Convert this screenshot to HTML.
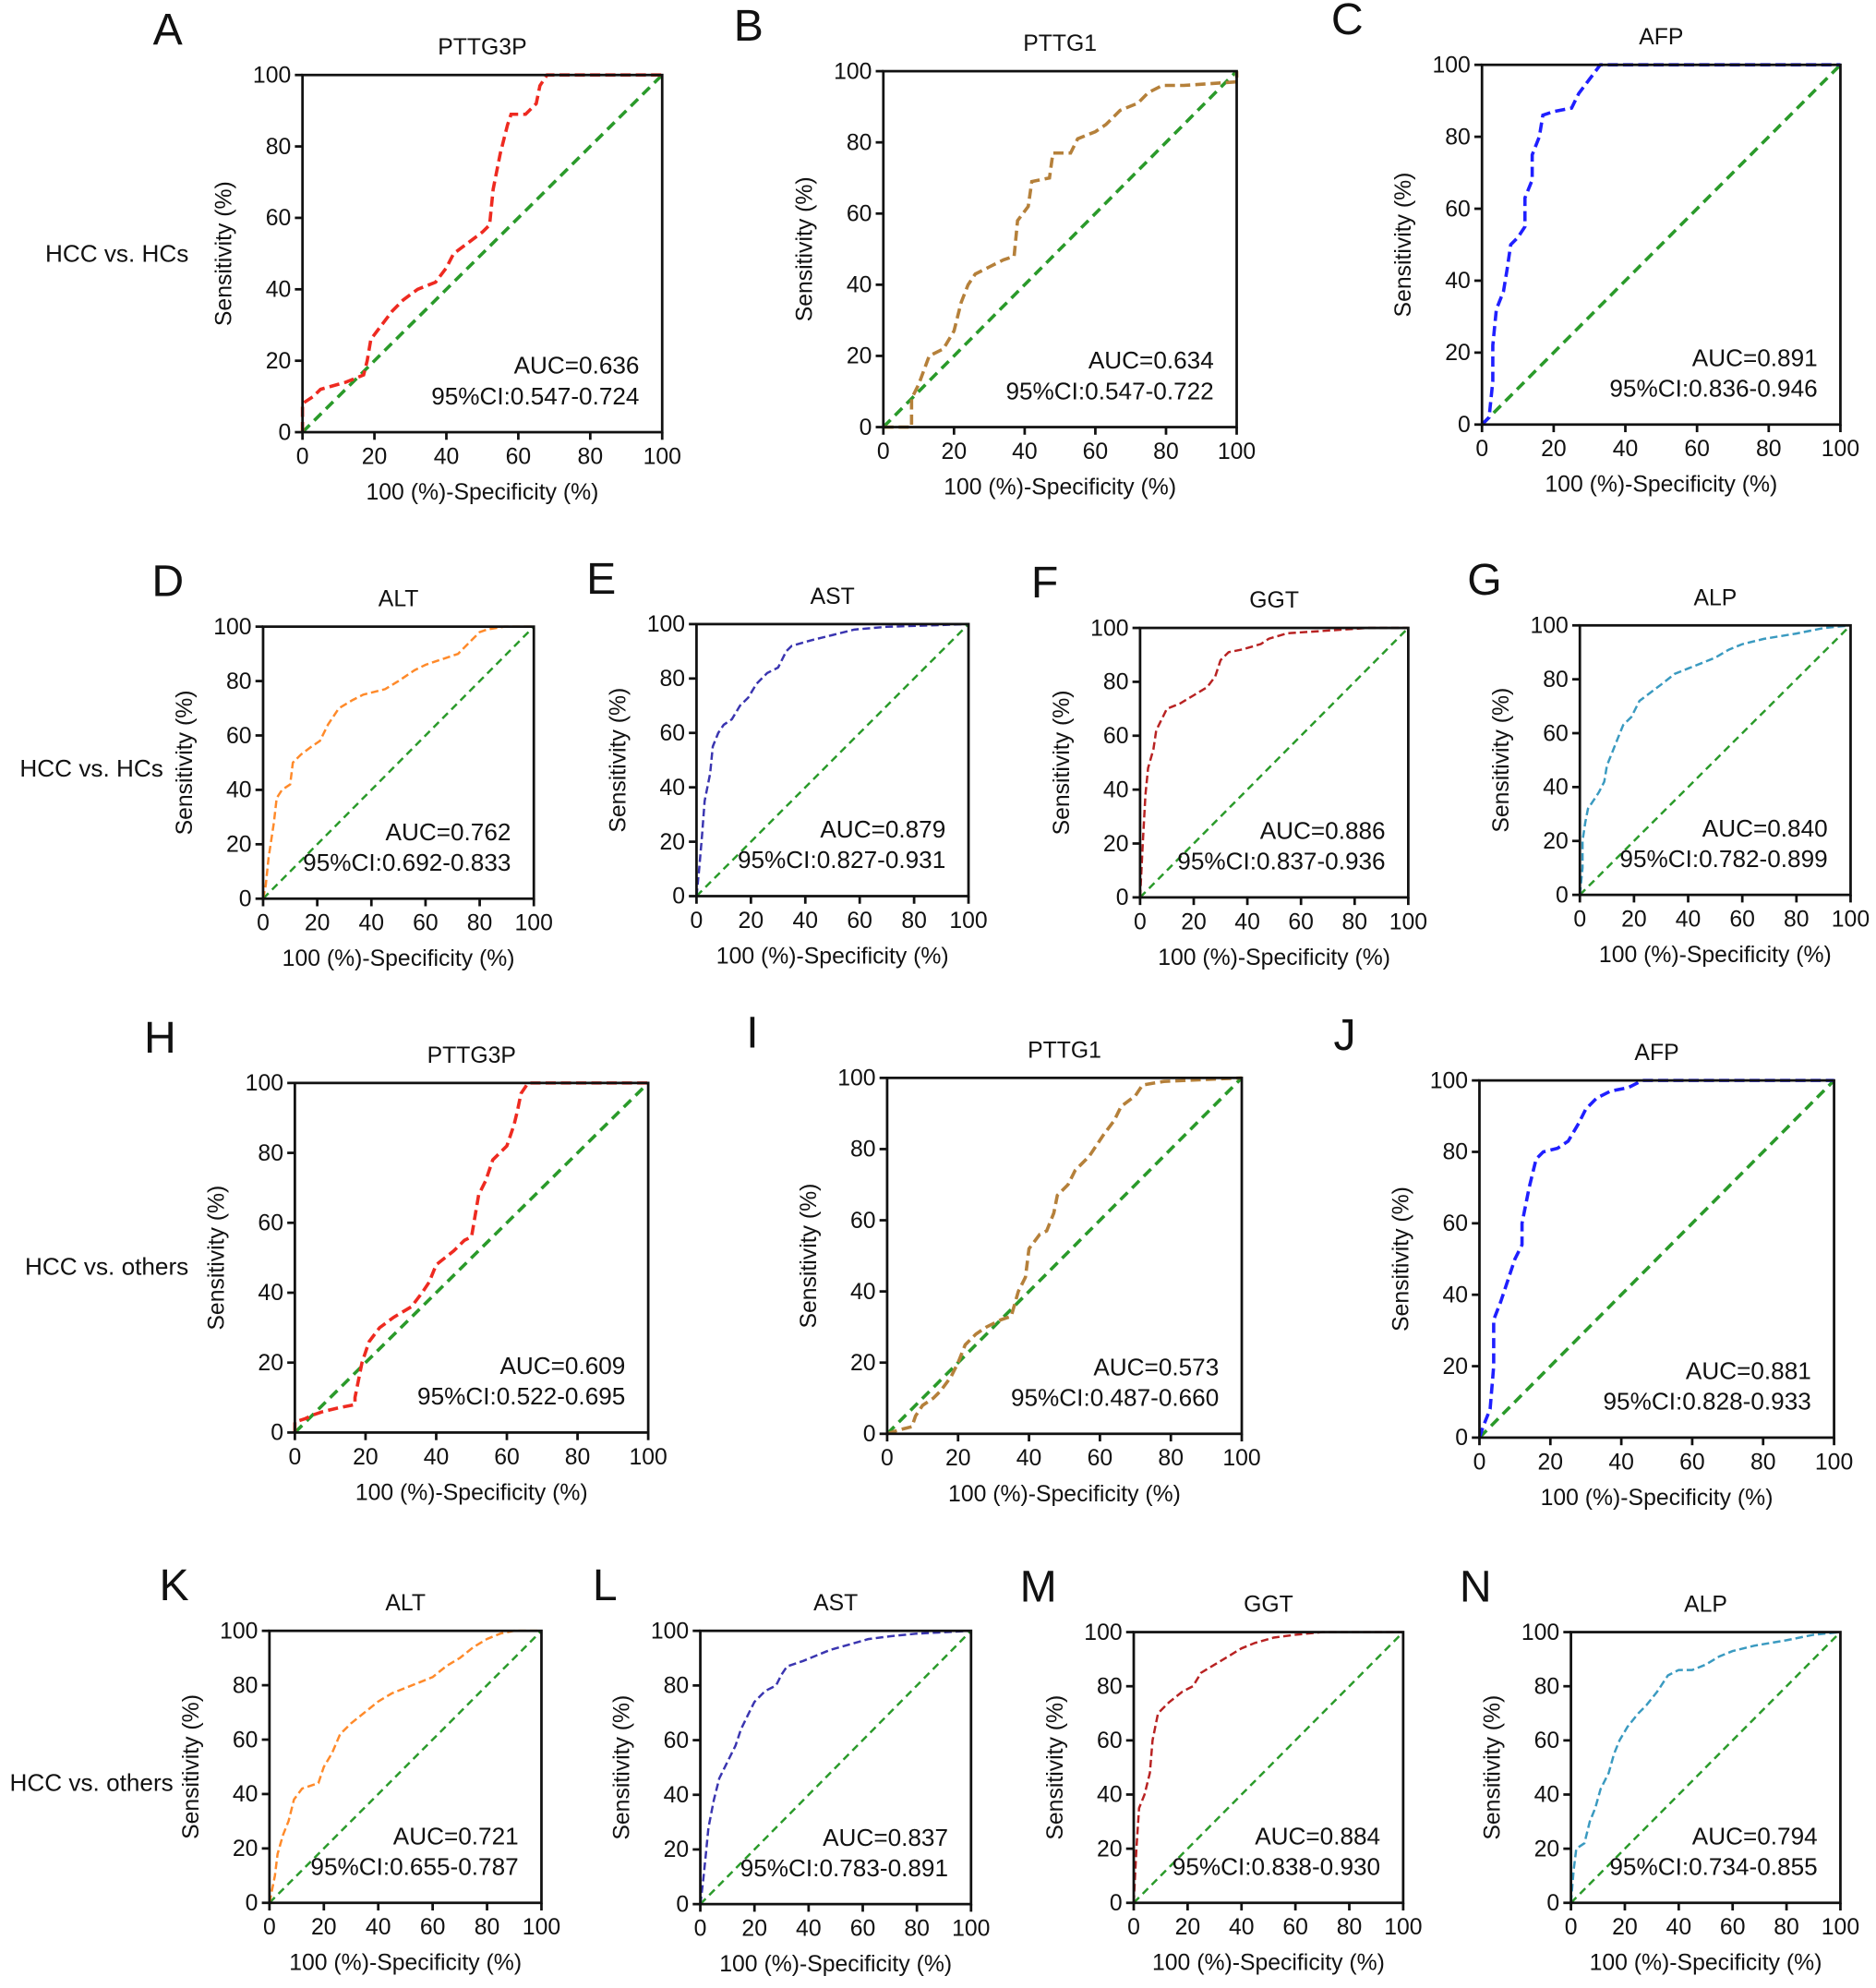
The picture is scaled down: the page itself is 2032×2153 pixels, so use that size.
<!DOCTYPE html>
<html><head><meta charset="utf-8"><style>
html,body{margin:0;padding:0;background:#fff}
svg{display:block;font-family:"Liberation Sans",Arial,sans-serif}
</style></head><body>
<svg id="fig" width="2032" height="2153" viewBox="0 0 1476 1564" preserveAspectRatio="none" xmlns="http://www.w3.org/2000/svg"></svg>
<script>
const panelLetters=["A","B","C","D","E","F","G","H","I","J","K","L","M","N"];
const panelTitles=["PTTG3P","PTTG1","AFP","ALT","AST","GGT","ALP","PTTG3P","PTTG1","AFP","ALT","AST","GGT","ALP"];
const aucLabels=["AUC=0.636","AUC=0.634","AUC=0.891","AUC=0.762","AUC=0.879","AUC=0.886","AUC=0.840","AUC=0.609","AUC=0.573","AUC=0.881","AUC=0.721","AUC=0.837","AUC=0.884","AUC=0.794"];
const ciLabels=["95%CI:0.547-0.724","95%CI:0.547-0.722","95%CI:0.836-0.946","95%CI:0.692-0.833","95%CI:0.827-0.931","95%CI:0.837-0.936","95%CI:0.782-0.899","95%CI:0.522-0.695","95%CI:0.487-0.660","95%CI:0.828-0.933","95%CI:0.655-0.787","95%CI:0.783-0.891","95%CI:0.838-0.930","95%CI:0.734-0.855"];
const tickValues=[0,20,40,60,80,100];
const rowLabels=["HCC vs. HCs","HCC vs. HCs","HCC vs. others","HCC vs. others"];
const curveA=[[0,0],[0,8],[3,10],[5,12],[12,14],[17,16],[18,20],[19,26],[22,30],[25,34],[28,37],[32,40],[37,42],[40,46],[42,50],[46,53],[50,56],[52,58],[53,68],[55,78],[57,86],[58,89],[62,89],[65,92],[66,97],[68,100],[100,100]];
const curveB=[[0,0],[8,0],[8,8],[10,12],[13,20],[17,22],[20,27],[22,35],[24,40],[26,43],[30,45],[34,47],[37,48],[38,58],[41,62],[42,69],[47,70],[48,77],[53,77],[55,81],[60,83],[63,85],[67,89],[72,91],[75,94],[79,96],[85,96],[100,97],[100,100]];
const curveC=[[0,0],[2,2],[3,12],[3,22],[4,32],[6,37],[7,43],[8,50],[10,52],[12,55],[12,63],[14,68],[14,75],[16,80],[17,86],[20,87],[25,88],[27,92],[30,96],[33,100],[100,100]];
const curveD=[[0,0],[1,5],[2,15],[4,28],[5,37],[7,40],[10,42],[11,50],[14,53],[18,56],[21,58],[24,64],[28,70],[33,73],[37,75],[45,77],[50,80],[56,84],[60,86],[66,88],[72,90],[77,95],[80,98],[83,99],[89,100],[100,100]];
const curveE=[[0,0],[1,10],[2,22],[3,35],[5,45],[6,55],[8,60],[10,63],[13,65],[16,70],[19,73],[22,78],[26,82],[30,84],[33,90],[35,92],[42,94],[50,96],[58,98],[70,99],[100,100]];
const curveF=[[0,0],[1,20],[2,38],[3,48],[5,55],[6,62],[8,66],[10,70],[15,72],[20,75],[25,78],[28,82],[30,88],[33,91],[38,92],[45,94],[48,96],[55,98],[70,99],[85,100],[100,100]];
const curveG=[[0,0],[1,10],[1,20],[2,27],[3,32],[5,35],[7,38],[9,42],[10,48],[12,53],[14,58],[16,63],[19,66],[22,72],[26,75],[30,78],[35,82],[40,84],[45,86],[50,88],[55,91],[60,93],[68,95],[80,97],[90,99],[100,100]];
const curveH=[[0,0],[0,3],[3,4],[5,5],[8,6],[12,7],[17,8],[17,10],[19,20],[21,26],[24,30],[28,33],[33,36],[36,40],[38,43],[40,48],[45,52],[48,55],[50,56],[51,62],[52,68],[54,72],[56,78],[60,82],[62,88],[63,92],[64,97],[66,100],[100,100]];
const curveI=[[0,0],[3,1],[7,2],[8,5],[10,8],[13,10],[15,12],[18,16],[20,20],[22,25],[25,28],[28,30],[32,32],[35,33],[37,40],[39,44],[40,52],[43,56],[45,57],[47,62],[48,67],[51,70],[53,74],[57,78],[61,84],[64,88],[66,92],[70,95],[72,98],[78,99],[100,100]];
const curveJ=[[0,0],[1,3],[3,8],[4,20],[4,33],[6,38],[8,44],[10,50],[12,54],[12,60],[14,70],[16,78],[18,80],[22,81],[25,83],[28,88],[30,92],[33,95],[37,97],[42,98],[46,100],[100,100]];
const curveK=[[0,0],[2,10],[3,18],[5,25],[7,30],[9,38],[12,42],[18,44],[20,50],[23,55],[26,62],[30,66],[35,70],[40,74],[45,77],[50,79],[55,81],[60,83],[65,87],[70,90],[75,94],[80,97],[85,99],[90,100],[100,100]];
const curveL=[[0,0],[1,8],[2,18],[3,28],[5,38],[7,46],[10,52],[13,58],[15,64],[18,70],[20,74],[24,78],[28,80],[30,84],[32,87],[38,89],[43,91],[48,93],[55,95],[62,97],[70,98],[80,99],[100,100]];
const curveM=[[0,0],[1,20],[2,35],[4,40],[6,48],[7,60],[9,70],[13,74],[18,78],[22,80],[25,85],[30,88],[35,91],[40,94],[45,96],[52,98],[60,99],[70,100],[100,100]];
const curveN=[[0,0],[1,12],[2,20],[5,22],[7,30],[9,35],[11,42],[14,48],[16,55],[18,60],[21,65],[25,70],[28,73],[32,78],[36,84],[40,86],[45,86],[50,88],[55,91],[60,93],[68,95],[80,97],[90,99],[100,100]];
const curves=[curveA,curveB,curveC,curveD,curveE,curveF,curveG,curveH,curveI,curveJ,curveK,curveL,curveM,curveN];

const boxes=[[238,521,59,340],[695,973,56,336],[1166,1448,51,334],[207,420,493,707],[548,762,491,705],[897,1108,494,706],[1243,1456,492,704],[232,510,852,1127],[698,977,848,1128],[1164,1443,850,1131],[212,426,1283,1497],[551,764,1283,1498],[892,1104,1284,1497],[1236,1448,1284,1497]];
const colors=["#ee2a20","#b5803a","#1f1fff","#ff8a2a","#3a35b0","#b82222","#3a9ac0","#ee2a20","#b5803a","#1f1fff","#ff8a2a","#3a35b0","#b82222","#3a9ac0"];
const big=[1,1,1,0,0,0,0,1,1,1,0,0,0,0];
const rowLabelPos=[[92,200],[72,605],[84,997],[72,1403]];

const NS="http://www.w3.org/2000/svg";
const svg=document.getElementById('fig');
function mk(tag,attrs,parent,txt){const e=document.createElementNS(NS,tag);for(const k in attrs)e.setAttribute(k,attrs[k]);if(txt!==undefined)e.textContent=txt;(parent||svg).appendChild(e);return e;}

rowLabels.forEach((t,i)=>{
  const e=mk('text',{x:rowLabelPos[i][0],y:rowLabelPos[i][1]+6,'text-anchor':'middle','font-size':19,fill:'#111'},svg,t);
  
  
});

boxes.forEach((b,i)=>{
  const [x0,x1,y0,y1]=b;
  const g=mk('g',{});
  
  
  const sx=v=>x0+(x1-x0)*v/100, sy=v=>y1-(y1-y0)*v/100;
  const d=mk('line',{x1:sx(0),y1:sy(0),x2:sx(100),y2:sy(100),stroke:'#2a9a2a','stroke-width':big[i]?2.6:1.8,'stroke-dasharray':big[i]?'8,5':'6,4'},g);
  
  
  const pts=curves[i].map(p=>sx(p[0]).toFixed(1)+','+sy(p[1]).toFixed(1)).join(' ');
  const c=mk('polyline',{points:pts,fill:'none',stroke:colors[i],'stroke-width':big[i]?2.6:1.8,'stroke-dasharray':big[i]?'8,4':'6,3'},g);
  
  
  const f=mk('rect',{x:x0,y:y0,width:x1-x0,height:y1-y0,fill:'none',stroke:'#111','stroke-width':2},g);
  
  
  tickValues.forEach(v=>{
    mk('line',{x1:sx(v),y1:y1,x2:sx(v),y2:y1+6,stroke:'#111','stroke-width':2},g);
    mk('line',{x1:x0-6,y1:sy(v),x2:x0,y2:sy(v),stroke:'#111','stroke-width':2},g);
    const tx=mk('text',{x:sx(v),y:y1+25,'text-anchor':'middle','font-size':18,fill:'#111'},g,String(v));
    
    
    const ty=mk('text',{x:x0-9,y:sy(v)+6,'text-anchor':'end','font-size':18,fill:'#111'},g,String(v));
    
    
  });
  const xt=mk('text',{x:(x0+x1)/2,y:y1+53,'text-anchor':'middle','font-size':18,fill:'#111'},g,'100 (%)-Specificity (%)');
  
  
  const yx=x0-56, yy=(y0+y1)/2;
  const yt=mk('text',{x:yx,y:yy,'text-anchor':'middle','font-size':18,fill:'#111',transform:`rotate(-90 ${yx} ${yy})`},g,'Sensitivity (%)');
  
  
  const tt=mk('text',{x:(x0+x1)/2,y:y0-16,'text-anchor':'middle','font-size':18,fill:'#111'},g,panelTitles[i]);
  
  
  const lt=mk('text',{x:x0-(big[i]?106:75),y:y0-24,'text-anchor':'middle','font-size':35,fill:'#111'},g,panelLetters[i]);
  
  
  const a=mk('text',{x:x1-18,y:y1-46,'text-anchor':'end','font-size':19,fill:'#111'},g,aucLabels[i]);
  
  
  const ci=mk('text',{x:x1-18,y:y1-22,'text-anchor':'end','font-size':19,fill:'#111'},g,ciLabels[i]);
  
  
});
</script>
</body></html>
